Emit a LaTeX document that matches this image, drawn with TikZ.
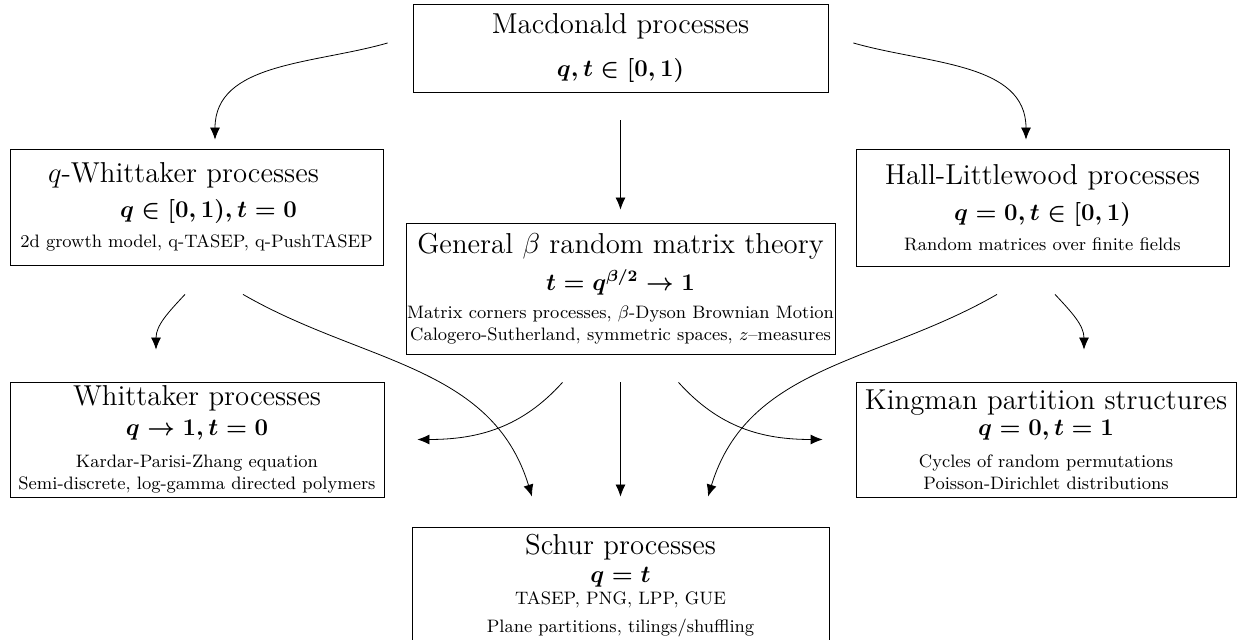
\documentclass[tikz,border=0pt]{standalone}
\usepackage{amsmath,amssymb}
\usepackage{tikz}
\usetikzlibrary{arrows.meta}

\tikzset{
  proc/.style={draw, align=center, inner sep=0pt, font=\small},
  >={Latex[length=6pt,width=5pt]},
}

\begin{document}
\begin{tikzpicture}[x=0.5pt,y=0.5pt]
  \useasboundingbox (0,0) rectangle (1237,-640);
  %
  \node[proc, minimum width=207.5pt, minimum height=44pt] (mac) at (620.5,-48)
    {{\Large Macdonald processes}\\[9pt]{\large\boldmath$q,t\in[0,1)$}};
  \node[proc, minimum width=186.5pt, minimum height=58pt] (qw) at (196.5,-207)
    {{\Large $q$-Whittaker processes}\hspace{13pt}\mbox{}\\[5pt]\hspace*{12pt}{\large\boldmath$q\in[0,1),t=0$}\\[4pt]2d growth model, q-TASEP, q-PushTASEP};
  \node[proc, minimum width=186.5pt, minimum height=58.5pt] (hl) at (1042.5,-207.5)
    {{\Large Hall-Littlewood processes}\\[5pt]{\large\boldmath$q=0,t\in[0,1)$}\\[4pt]Random matrices over finite fields};
  \node[proc, minimum width=214.5pt, minimum height=65.5pt] (gen) at (620.5,-288.5)
    {{\Large General $\beta$ random matrix theory}\\[4pt]{\large\boldmath$t=q^{\beta/2}\to1$}\\[3pt]Matrix corners processes, $\beta$-Dyson Brownian Motion\\Calogero-Sutherland, symmetric spaces, $z$--measures};
  \node[proc, minimum width=187pt, minimum height=57.5pt] (wh) at (197,-439.5)
    {{\Large Whittaker processes}\\[4pt]{\large\boldmath$q\to1,t=0$}\\[5pt]Kardar-Parisi-Zhang equation\\Semi-discrete, log-gamma directed polymers};
  \node[proc, minimum width=190pt, minimum height=57.5pt] (king) at (1046,-439.5)
    {{\Large Kingman partition structures}\\[2pt]{\large\boldmath$q=0,t=1$}\\[5pt]Cycles of random permutations\\Poisson-Dirichlet distributions};
  \node[proc, minimum width=208.5pt, minimum height=59pt] (schur) at (620.5,-586)
    {{\Large Schur processes}\\[3pt]{\large\boldmath$q=t$}\\[0pt]TASEP, PNG, LPP, GUE\\[3pt]Plane partitions, tilings/shuffling};
  %
  \path[->]
  ([xshift=-12.5pt,yshift=2.5pt]mac.west) edge[out=196,in=90] ([xshift=9.25pt,yshift=4.5pt]qw.north)
  ([xshift=12.5pt,yshift=2.5pt]mac.east) edge[out=-16,in=90] ([xshift=-8.25pt,yshift=4.5pt]hl.north)
  (mac) edge[shorten <=14pt, shorten >=6.5pt] (gen)
  ([xshift=-5.75pt,yshift=-14.5pt]qw.south) edge[out=227,in=90] ([xshift=-20.5pt,yshift=16pt]wh.north)
  ([xshift=23.25pt,yshift=-14.5pt]qw.south) edge[out=-30,in=107] ([xshift=-44.25pt,yshift=15pt]schur.north)
  ([xshift=-22.75pt,yshift=-14pt]hl.south) edge[out=210,in=73] ([xshift=43.75pt,yshift=15pt]schur.north)
  ([xshift=6.25pt,yshift=-14pt]hl.south) edge[out=-47,in=90] ([xshift=19pt,yshift=16pt]king.north)
  ([xshift=-29pt,yshift=-14pt]gen.south) edge[out=228,in=0] ([xshift=16.5pt]wh.east)
  ([xshift=29pt,yshift=-14pt]gen.south) edge[out=-48,in=180] ([xshift=-16.5pt]king.west)
  (gen) edge[shorten <=14pt, shorten >=15pt] (schur);
\end{tikzpicture}
\end{document}
